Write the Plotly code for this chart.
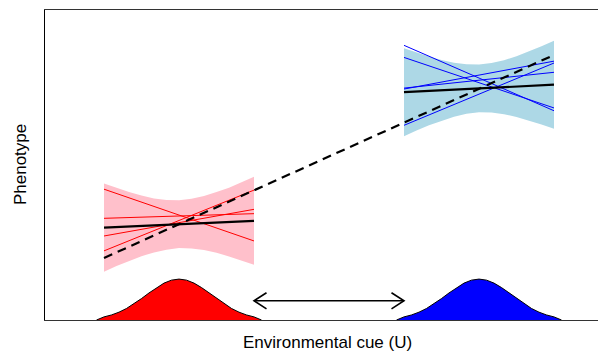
import plotly.graph_objects as go

# ---- data (environmental cue U on x, phenotype on y) ----
red_mean = -3.0
blue_mean = 3.0

# density curves (offset from mean, height)
dens_offsets = [-1.65, -1.5, -1.35, -1.2, -1.05, -0.9, -0.75, -0.6, -0.45, -0.3, -0.15, 0.0,
                0.15, 0.3, 0.45, 0.6, 0.75, 0.9, 1.05, 1.2, 1.35, 1.5, 1.65]
dens_heights = [0.0, 0.10, 0.163, 0.253, 0.372, 0.521, 0.692, 0.873, 1.046, 1.19, 1.286, 1.32,
                1.286, 1.19, 1.046, 0.873, 0.692, 0.521, 0.372, 0.253, 0.163, 0.10, 0.0]

# red environment: band and fitted lines
red_u = [-4.5, -4.25, -4.0, -3.75, -3.5, -3.25, -3.0, -2.75, -2.5, -2.25, -2.0, -1.75, -1.5]
red_upper = [4.40, 4.26, 4.13, 4.02, 3.92, 3.87, 3.86, 3.91, 4.00, 4.13, 4.27, 4.44, 4.62]
red_lower = [1.56, 1.74, 1.91, 2.06, 2.18, 2.27, 2.32, 2.31, 2.26, 2.17, 2.05, 1.92, 1.78]
red_line_ends = [-4.5, -1.5]
red_lines = [[4.22, 2.55], [3.28, 3.43], [2.71, 3.57], [2.23, 4.19]]
red_mean_line = [2.98, 3.20]

# blue environment
blue_u = [1.5, 1.75, 2.0, 2.25, 2.5, 2.75, 3.0, 3.25, 3.5, 3.75, 4.0, 4.25, 4.5]
blue_upper = [8.77, 8.63, 8.50, 8.39, 8.30, 8.25, 8.24, 8.29, 8.38, 8.51, 8.66, 8.83, 9.01]
blue_lower = [5.93, 6.11, 6.28, 6.43, 6.56, 6.65, 6.70, 6.69, 6.64, 6.55, 6.44, 6.31, 6.17]
blue_line_ends = [1.5, 4.5]
blue_lines = [[8.86, 6.75], [8.47, 6.84], [7.48, 7.99], [7.45, 8.35], [6.28, 8.29]]
blue_mean_line = [7.35, 7.59]

# overall reaction norm (dashed)
overall_u = [-4.5, 4.5]
overall_y = [2.0, 8.55]

# double arrow between environments
arrow_u = [-1.5, 1.5]
arrow_y = 0.62
head_dx = 0.25
head_dy = 0.26

x_range = [-5.68, 5.54]
y_range = [0.0, 10.0]

fig = go.Figure()

# bands
for u, up, lo, col in [(red_u, red_upper, red_lower, "#FFC0CB"),
                       (blue_u, blue_upper, blue_lower, "#ADD8E6")]:
    fig.add_trace(go.Scatter(x=u + u[::-1], y=up + lo[::-1], fill="toself",
                             fillcolor=col, line=dict(width=0), mode="lines",
                             hoverinfo="skip"))

# thin lines
for ys in red_lines:
    fig.add_trace(go.Scatter(x=red_line_ends, y=ys, mode="lines",
                             line=dict(color="#FF0000", width=1)))
for ys in blue_lines:
    fig.add_trace(go.Scatter(x=blue_line_ends, y=ys, mode="lines",
                             line=dict(color="#0000FF", width=1)))

# mean lines
fig.add_trace(go.Scatter(x=red_line_ends, y=red_mean_line, mode="lines",
                         line=dict(color="black", width=2.2)))
fig.add_trace(go.Scatter(x=blue_line_ends, y=blue_mean_line, mode="lines",
                         line=dict(color="black", width=2.2)))

# dashed overall line
fig.add_trace(go.Scatter(x=overall_u, y=overall_y, mode="lines",
                         line=dict(color="black", width=2.2, dash="9px,6px")))

# densities
for m, col in [(red_mean, "#FF0000"), (blue_mean, "#0000FF")]:
    fig.add_trace(go.Scatter(x=[m + d for d in dens_offsets], y=dens_heights,
                             fill="toself", fillcolor=col, mode="lines",
                             line=dict(color="black", width=1)))

# double-headed open arrow
a0, a1 = arrow_u
fig.add_trace(go.Scatter(x=[a0, a1], y=[arrow_y, arrow_y], mode="lines",
                         line=dict(color="black", width=1.6)))
fig.add_trace(go.Scatter(x=[a0 + head_dx, a0, a0 + head_dx],
                         y=[arrow_y + head_dy, arrow_y, arrow_y - head_dy], mode="lines",
                         line=dict(color="black", width=1.6)))
fig.add_trace(go.Scatter(x=[a1 - head_dx, a1, a1 - head_dx],
                         y=[arrow_y + head_dy, arrow_y, arrow_y - head_dy], mode="lines",
                         line=dict(color="black", width=1.6)))

# page body has an 8px default margin: size the figure to fill the rest of the window
fig.update_layout(
    width=598, height=345,
    margin=dict(l=37, r=0, t=2, b=33),
    paper_bgcolor="white", plot_bgcolor="white",
    showlegend=False,
    font=dict(family="Liberation Sans, Arial, sans-serif", color="black"),
    xaxis=dict(range=x_range, showgrid=False, zeroline=False, showticklabels=False,
               ticks="", showline=True, linecolor="#333333", linewidth=1.3, mirror=True,
               fixedrange=True),
    yaxis=dict(range=y_range, showgrid=False, zeroline=False, showticklabels=False,
               ticks="", showline=True, linecolor="black", linewidth=1, mirror=False,
               fixedrange=True),
    annotations=[
        dict(text="Environmental cue (U)", xref="paper", yref="paper",
             x=0.5036, y=-0.072, xanchor="center", yanchor="middle",
             showarrow=False, font=dict(size=17)),
        dict(text="Phenotype", xref="paper", yref="paper",
             x=-0.0445, y=0.5, xanchor="center", yanchor="middle", textangle=-90,
             showarrow=False, font=dict(size=17)),
    ],
)

fig.write_html("out.html", config={"displayModeBar": False})
